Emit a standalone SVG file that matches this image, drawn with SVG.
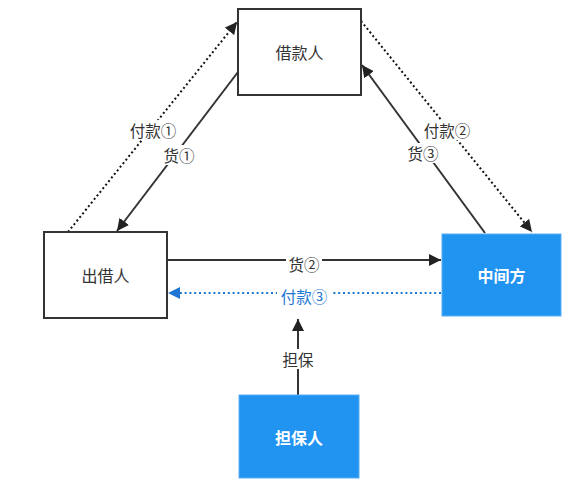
<svg xmlns="http://www.w3.org/2000/svg" width="581" height="490" viewBox="0 0 581 490">
<defs>
<style>
.box{fill:#ffffff;stroke:#333333;stroke-width:2}
.blue{fill:#2193F0;stroke:#5AAEF5;stroke-width:1}
.t{font-family:"Noto Sans CJK SC",sans-serif;font-size:16px;fill:#333333;text-anchor:middle;dominant-baseline:central}
.tw{font-family:"Noto Sans CJK SC",sans-serif;font-size:16px;font-weight:bold;fill:#ffffff;text-anchor:middle;dominant-baseline:central}
.lbl{font-family:"Noto Sans CJK SC",sans-serif;font-size:15.5px;fill:#333333;text-anchor:middle;dominant-baseline:central}
.solid{stroke:#333333;stroke-width:2;fill:none}
.dot{stroke:#111111;stroke-width:2;stroke-dasharray:2 2.6;fill:none}
.dotb{stroke:#1E76D2;stroke-width:2;stroke-dasharray:2 2.8;fill:none}
.bg{fill:#ffffff}
</style>
<marker id="ah" viewBox="0 0 10 10" refX="10" refY="5" markerWidth="6" markerHeight="6" orient="auto" markerUnits="strokeWidth">
<path d="M0,0 L10,5 L0,10 z" fill="#222222"/>
</marker>
<marker id="ahb" viewBox="0 0 10 10" refX="10" refY="5" markerWidth="6" markerHeight="6" orient="auto" markerUnits="strokeWidth">
<path d="M0,0 L10,5 L0,10 z" fill="#1E76D2"/>
</marker>
</defs>
<rect width="581" height="490" fill="#ffffff"/>
<g id="connectors">
<line class="dot" x1="68" y1="232" x2="237" y2="22" marker-end="url(#ah)"/>
<line class="solid" x1="238" y1="72" x2="117" y2="231" marker-end="url(#ah)"/>
<line class="dot" x1="361" y1="21" x2="532" y2="232" marker-end="url(#ah)"/>
<line class="solid" x1="485" y1="233" x2="362" y2="65" marker-end="url(#ah)"/>
<line class="solid" x1="167" y1="260" x2="441" y2="260" marker-end="url(#ah)"/>
<line class="dotb" x1="441" y1="293" x2="168" y2="293" marker-end="url(#ahb)"/>
<line class="solid" x1="298" y1="395" x2="298" y2="319" marker-end="url(#ah)"/>
<rect class="bg" x="126" y="120" width="54" height="20"/>
<text class="lbl" x="153" y="130">付款①</text>
<rect class="bg" x="162" y="145" width="36" height="20"/>
<text class="lbl" x="179" y="155">货①</text>
<rect class="bg" x="420" y="120" width="54" height="20"/>
<text class="lbl" x="447" y="130">付款②</text>
<rect class="bg" x="405" y="143" width="36" height="20"/>
<text class="lbl" x="423" y="153">货③</text>
<rect class="bg" x="286" y="254" width="36" height="20"/>
<text class="lbl" x="304" y="264">货②</text>
<rect class="bg" x="277" y="286" width="54" height="20"/>
<text class="lbl" x="304" y="296" style="fill:#1E76D2">付款③</text>
<rect class="bg" x="280" y="349" width="36" height="20"/>
<text class="lbl" x="298" y="359">担保</text>
</g>
<g id="borrower">
<rect class="box" x="238" y="9" width="123" height="86"/>
<text class="t" x="299.5" y="52">借款人</text>
</g>
<g id="lender">
<rect class="box" x="44" y="232" width="123" height="86"/>
<text class="t" x="105.5" y="275">出借人</text>
</g>
<g id="intermediary">
<rect class="blue" x="442" y="234" width="119" height="82"/>
<text class="tw" x="501.5" y="275">中间方</text>
</g>
<g id="guarantor">
<rect class="blue" x="239" y="395" width="120" height="83"/>
<text class="tw" x="299" y="436.5">担保人</text>
</g>
</svg>
